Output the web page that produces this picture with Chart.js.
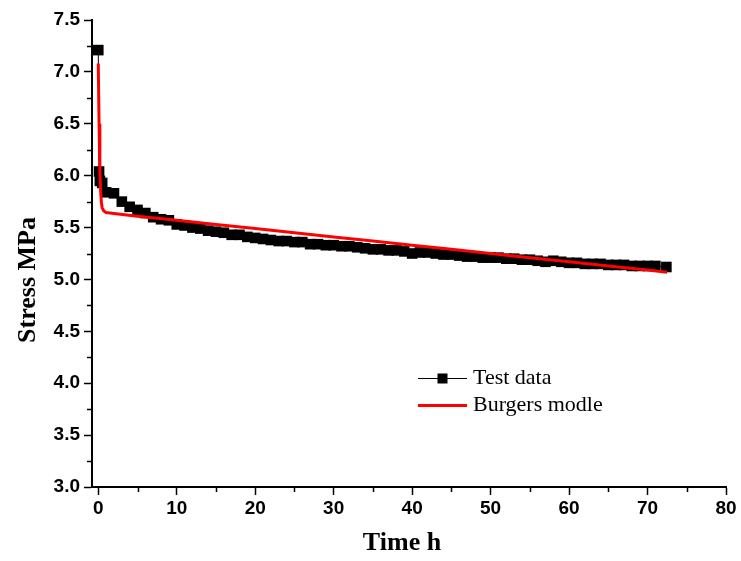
<!DOCTYPE html>
<html>
<head>
<meta charset="utf-8">
<script src="https://cdn.jsdelivr.net/npm/chart.js@4.4.0/dist/chart.umd.min.js"></script>
<style>
  html, body { margin: 0; padding: 0; background: #fff; }
</style>
</head>
<body>
<canvas id="grafico" width="741" height="561"></canvas>
<script>
// creep test: measured stress vs. time
const testTime = [0, 0.1, 0.2, 0.5,
  1, 2, 3, 4, 5, 6, 7, 8, 9, 10,
  11, 12, 13, 14, 15, 16, 17, 18, 19, 20,
  21, 22, 23, 24, 25, 26, 27, 28, 29, 30,
  31, 32, 33, 34, 35, 36, 37, 38, 39, 40,
  41, 42, 43, 44, 45, 46, 47, 48, 49, 50,
  51, 52, 53, 54, 55, 56, 57, 58, 59, 60,
  61, 62, 63, 64, 65, 66, 67, 68, 69, 70,
  71, 72.4];
const testStress = [7.21, 6.04, 5.95, 5.93,
  5.84, 5.83, 5.75, 5.70, 5.67, 5.64, 5.60, 5.58, 5.57, 5.53,
  5.52, 5.50, 5.49, 5.47, 5.46, 5.45, 5.43, 5.43, 5.41, 5.40,
  5.39, 5.38, 5.37, 5.37, 5.36, 5.36, 5.34, 5.34, 5.33, 5.33,
  5.32, 5.32, 5.31, 5.30, 5.29, 5.29, 5.28, 5.28, 5.27, 5.25,
  5.26, 5.26, 5.25, 5.24, 5.24, 5.23, 5.22, 5.22, 5.21, 5.21,
  5.21, 5.20, 5.20, 5.19, 5.19, 5.18, 5.17, 5.18, 5.17, 5.16,
  5.16, 5.15, 5.15, 5.15, 5.14, 5.14, 5.14, 5.13, 5.13, 5.13,
  5.13, 5.12];

// fitted Burgers model curve
const modelTime = [0, 0.1, 0.2, 0.3, 0.4, 0.5, 0.7, 1, 2, 5, 10, 15, 20, 25, 30, 35, 40, 45, 50, 55, 60, 65, 70, 72.5];
const modelStress = [7.08, 6.50, 6.06, 5.85, 5.74, 5.69, 5.66, 5.645, 5.635, 5.61, 5.57, 5.53, 5.49, 5.45, 5.41, 5.37, 5.33, 5.29, 5.25, 5.21, 5.17, 5.13, 5.09, 5.07];

const xTicks = [0, 10, 20, 30, 40, 50, 60, 70, 80];
const xMinorTicks = [5, 15, 25, 35, 45, 55, 65, 75];
const yTicks = [3.0, 3.5, 4.0, 4.5, 5.0, 5.5, 6.0, 6.5, 7.0, 7.5];
const yMinorTicks = [3.25, 3.75, 4.25, 4.75, 5.25, 5.75, 6.25, 6.75, 7.25];

const labelX = 'Time h';
const labelY = 'Stress MPa';
const legendNames = ['Test data', 'Burgers modle'];

function pares(xs, ys) {
  return xs.map((x, i) => ({ x: x, y: ys[i] }));
}

// minor ticks, axis titles and the legend box
const extras = {
  id: 'extras',
  afterDraw(chart) {
    const ctx = chart.ctx;
    const sx = chart.scales.x;
    const sy = chart.scales.y;
    const area = chart.chartArea;

    ctx.save();
    ctx.strokeStyle = '#000';
    ctx.lineWidth = 1.5;
    ctx.beginPath();
    xMinorTicks.forEach(v => {
      const px = Math.round(sx.getPixelForValue(v)) + 0.5;
      ctx.moveTo(px, area.bottom);
      ctx.lineTo(px, area.bottom + 5);
    });
    yMinorTicks.forEach(v => {
      const py = Math.round(sy.getPixelForValue(v)) + 0.5;
      ctx.moveTo(area.left, py);
      ctx.lineTo(area.left - 5, py);
    });
    ctx.stroke();

    ctx.fillStyle = '#000';
    ctx.font = 'bold 26px "Liberation Serif", "Times New Roman", serif';
    ctx.textAlign = 'center';
    ctx.textBaseline = 'middle';
    ctx.fillText(labelX, 402, 543);

    ctx.translate(28, 280);
    ctx.rotate(-Math.PI / 2);
    ctx.fillText(labelY, 0, 0);
    ctx.setTransform(1, 0, 0, 1, 0, 0);

    // legend
    const lx = 418, lw = 49;
    const rows = [378, 405];
    ctx.font = '22px "Liberation Serif", "Times New Roman", serif';
    ctx.textAlign = 'left';

    ctx.strokeStyle = '#000';
    ctx.lineWidth = 1;
    ctx.beginPath();
    ctx.moveTo(lx, rows[0] + 0.5);
    ctx.lineTo(lx + lw, rows[0] + 0.5);
    ctx.stroke();
    ctx.fillRect(lx + lw / 2 - 5, rows[0] - 4.5, 10, 10);
    ctx.fillText(legendNames[0], 473, rows[0]);

    ctx.strokeStyle = '#ff0000';
    ctx.lineWidth = 3;
    ctx.beginPath();
    ctx.moveTo(lx, rows[1] + 0.5);
    ctx.lineTo(lx + lw, rows[1] + 0.5);
    ctx.stroke();
    ctx.fillText(legendNames[1], 473, rows[1]);
    ctx.restore();
  }
};

const tickFont = { family: '"Liberation Sans", Arial, sans-serif', size: 19, weight: 'bold' };

new Chart(document.getElementById('grafico'), {
  type: 'scatter',
  data: {
    datasets: [{
      label: legendNames[1],
      data: pares(modelTime, modelStress),
      showLine: true,
      borderColor: '#ff0000',
      borderWidth: 3,
      pointRadius: 0,
      tension: 0,
      order: 0
    }, {
      label: legendNames[0],
      data: pares(testTime, testStress),
      showLine: true,
      borderColor: '#000',
      borderWidth: 1,
      backgroundColor: '#000',
      pointStyle: 'rect',
      pointRadius: 7.5,
      pointBorderWidth: 0,
      tension: 0,
      order: 1
    }]
  },
  options: {
    responsive: false,
    animation: false,
    devicePixelRatio: 1,
    layout: { padding: { top: 20, right: 15, left: 0, bottom: 0 } },
    plugins: {
      legend: { display: false },
      tooltip: { enabled: false }
    },
    scales: {
      x: {
        type: 'linear',
        min: -0.8,
        max: 80,
        afterBuildTicks: scale => { scale.ticks = xTicks.map(v => ({ value: v })); },
        afterFit: scale => { scale.height = 74; },
        ticks: { color: '#000', font: tickFont, padding: 2, maxRotation: 0 },
        grid: { drawOnChartArea: false, drawTicks: true, tickLength: 8, tickColor: '#000', tickWidth: 1.5 },
        border: { display: true, color: '#000', width: 2 }
      },
      y: {
        type: 'linear',
        min: 3.0,
        max: 7.5,
        afterBuildTicks: scale => { scale.ticks = yTicks.map(v => ({ value: v })); },
        afterFit: scale => { scale.width = 92; },
        ticks: { color: '#000', font: tickFont, padding: 4, callback: v => v.toFixed(1) },
        grid: { drawOnChartArea: false, drawTicks: true, tickLength: 8, tickColor: '#000', tickWidth: 1.5 },
        border: { display: true, color: '#000', width: 2 }
      }
    }
  },
  plugins: [extras]
});
</script>
</body>
</html>
